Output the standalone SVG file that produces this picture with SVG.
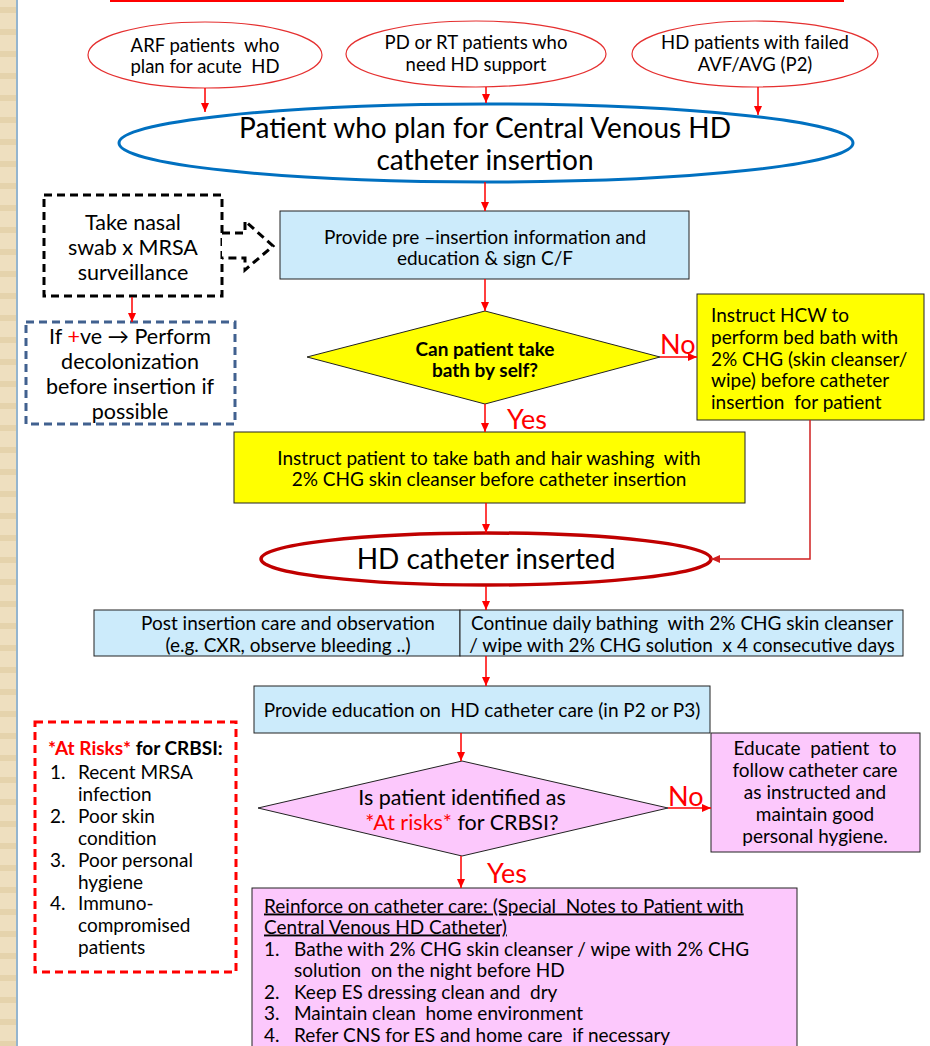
<svg xmlns="http://www.w3.org/2000/svg" width="930" height="1046" viewBox="0 0 930 1046">
<defs>
<pattern id="stripes" x="0" y="0" width="16" height="22" patternUnits="userSpaceOnUse">
<rect x="0" y="0" width="16" height="22" fill="#EEDFBF"/>
<rect x="0" y="7" width="16" height="6" fill="#E5D3AC"/>
</pattern>
<marker id="ah" markerWidth="10" markerHeight="10" refX="9" refY="5" orient="auto" markerUnits="userSpaceOnUse">
<path d="M0,1 L9,5 L0,9 z" fill="#FF0000"/>
</marker>
<marker id="ahd" markerWidth="10" markerHeight="10" refX="9" refY="5" orient="auto" markerUnits="userSpaceOnUse">
<path d="M0,1 L9,5 L0,9 z" fill="#D02020"/>
</marker>
<style>
text{font-family:Lato,"Open Sans","Liberation Sans",sans-serif;fill:#000;white-space:pre}
.c{text-anchor:middle}
.t{font-size:19px}
.e{font-size:18.5px}
.n{font-size:21.5px}
.q{font-size:21.5px}
.big{font-size:28px}
.red{fill:#FF0000}
.lbl{font-size:27px;fill:#FF0000}
.b{font-weight:bold}
.conn{stroke:#FF0000;stroke-width:1.5;fill:none;marker-end:url(#ah)}
.blue{fill:#CCEBFB;stroke:#222;stroke-width:1}
.yel{fill:#FFFF00;stroke:#222;stroke-width:1}
.pink{fill:#FCC8FC;stroke:#222;stroke-width:1}
.redell{fill:#fff;stroke:#E53030;stroke-width:1.2}
</style>
</defs>

<g id="border">
<rect x="0" y="0" width="16" height="1046" fill="url(#stripes)"/>
<rect x="16" y="0" width="2" height="1046" fill="#95B5CE"/>
</g>
<rect id="topbar" x="110" y="0" width="734" height="2" fill="#FF0000"/>

<g id="arf">
<ellipse cx="205" cy="55" rx="117" ry="33" class="redell"/>
<text class="c e" x="205" y="51.5">ARF patients  who</text>
<text class="c e" x="205" y="72.5">plan for acute  HD</text>
</g>
<g id="pdrt">
<ellipse cx="476" cy="54" rx="130" ry="33" class="redell"/>
<text class="c e" x="476" y="48.5">PD or RT patients who</text>
<text class="c e" x="476" y="70.5">need HD support</text>
</g>
<g id="hdfail">
<ellipse cx="755" cy="54" rx="123" ry="33" class="redell"/>
<text class="c e" x="755" y="48.5">HD patients with failed</text>
<text class="c e" x="755" y="70.5">AVF/AVG (P2)</text>
</g>

<g id="central">
<ellipse cx="486" cy="143" rx="367" ry="39" fill="#fff" stroke="#0070C0" stroke-width="3"/>
<text class="c big" x="485" y="138">Patient who plan for Central Venous HD</text>
<text class="c big" x="485" y="170">catheter insertion</text>
</g>

<g id="preinsert">
<rect x="280" y="211" width="409" height="68" class="blue"/>
<text class="c t" x="485" y="243.5">Provide pre –insertion information and</text>
<text class="c t" x="485" y="264.5">education &amp; sign C/F</text>
</g>

<g id="nasal">
<rect x="44" y="195" width="178" height="101" fill="#fff" stroke="#000" stroke-width="3" stroke-dasharray="8,5"/>
<text class="c n" x="133" y="229.5">Take nasal</text>
<text class="c n" x="133" y="254.5">swab x MRSA</text>
<text class="c n" x="133" y="279.5">surveillance</text>
</g>
<g id="blockarrow">
<path d="M222,233 L245,233 L245,221 L273,246 L245,270 L245,258 L222,258" fill="#fff" stroke="#000" stroke-width="3" stroke-dasharray="8,5"/>
</g>

<g id="decolon">
<rect x="26" y="322" width="209" height="102" fill="#fff" stroke="#41618F" stroke-width="3" stroke-dasharray="8,5"/>
<text class="c n" x="130" y="343.5">If <tspan class="red">+</tspan>ve → Perform</text>
<text class="c n" x="130" y="368.5">decolonization</text>
<text class="c n" x="130" y="393.5">before insertion if</text>
<text class="c n" x="130" y="418.5">possible</text>
</g>

<g id="bathq">
<polygon points="307,357 485,311 660,357 485,404" class="yel"/>
<text class="c t b" x="485" y="355.5">Can patient take</text>
<text class="c t b" x="485" y="376.5">bath by self?</text>
</g>

<g id="hcw">
<rect x="697" y="294" width="227" height="126" class="yel"/>
<text class="t" x="711" y="321.5">Instruct HCW to</text>
<text class="t" x="711" y="343.5">perform bed bath with</text>
<text class="t" x="711" y="365.5">2% CHG (skin cleanser/</text>
<text class="t" x="711" y="386.5">wipe) before catheter</text>
<text class="t" x="711" y="408.5">insertion  for patient</text>
</g>

<g id="selfbath">
<rect x="234" y="432" width="511" height="71" class="yel"/>
<text class="c t" x="489" y="464.5">Instruct patient to take bath and hair washing  with</text>
<text class="c t" x="489" y="485.5">2% CHG skin cleanser before catheter insertion</text>
</g>

<g id="inserted">
<ellipse cx="486" cy="559" rx="225" ry="26" fill="#fff" stroke="#C00000" stroke-width="3.5"/>
<text class="c big" x="486" y="569">HD catheter inserted</text>
</g>

<g id="postcare">
<rect x="94" y="610" width="366" height="46" class="blue"/>
<text class="c t" x="288" y="629.5">Post insertion care and observation</text>
<text class="c t" x="288" y="651.5">(e.g. CXR, observe bleeding ..)</text>
</g>
<g id="dailybath">
<rect x="460" y="610" width="443" height="46" class="blue"/>
<text class="c t" x="682" y="629.5">Continue daily bathing  with 2% CHG skin cleanser</text>
<text class="c t" x="682" y="651.5">/ wipe with 2% CHG solution  x 4 consecutive days</text>
</g>

<g id="educate">
<rect x="254" y="686" width="456" height="47" class="blue"/>
<text class="c t" x="482" y="716.5">Provide education on  HD catheter care (in P2 or P3)</text>
</g>

<g id="atrisk">
<rect x="35" y="722" width="201" height="250" fill="#fff" stroke="#FF0000" stroke-width="3" stroke-dasharray="8,5"/>
<text class="t b" x="48" y="754.5"><tspan class="red">*At Risks*</tspan> for CRBSI:</text>
<text class="t" x="50" y="778.5">1.</text><text class="t" x="78" y="778.5">Recent MRSA</text>
<text class="t" x="78" y="800.5">infection</text>
<text class="t" x="50" y="822.5">2.</text><text class="t" x="78" y="822.5">Poor skin</text>
<text class="t" x="78" y="844.5">condition</text>
<text class="t" x="50" y="866.5">3.</text><text class="t" x="78" y="866.5">Poor personal</text>
<text class="t" x="78" y="888.5">hygiene</text>
<text class="t" x="50" y="909.5">4.</text><text class="t" x="78" y="909.5">Immuno-</text>
<text class="t" x="78" y="931.5">compromised</text>
<text class="t" x="78" y="953.5">patients</text>
</g>

<g id="riskq">
<polygon points="258,808 462,761 668,808 462,856" class="pink"/>
<text class="c q" x="462" y="804.5">Is patient identified as</text>
<text class="c q" x="462" y="829.5"><tspan class="red">*At risks*</tspan> for CRBSI?</text>
</g>

<g id="hygiene">
<rect x="711" y="733" width="209" height="119" class="pink"/>
<text class="c t" x="815" y="754.5">Educate  patient  to</text>
<text class="c t" x="815" y="776.5">follow catheter care</text>
<text class="c t" x="815" y="798.5">as instructed and</text>
<text class="c t" x="815" y="820.5">maintain good</text>
<text class="c t" x="815" y="842.5">personal hygiene.</text>
</g>

<g id="reinforce">
<rect x="252" y="888" width="545" height="170" class="pink"/>
<text class="t" x="264" y="912.5" text-decoration="underline">Reinforce on catheter care: (Special  Notes to Patient with</text>
<text class="t" x="264" y="933.5" text-decoration="underline">Central Venous HD Catheter)</text>
<text class="t" x="264" y="955.5">1.</text><text class="t" x="294" y="955.5">Bathe with 2% CHG skin cleanser / wipe with 2% CHG</text>
<text class="t" x="294" y="976.5">solution  on the night before HD</text>
<text class="t" x="264" y="998.5">2.</text><text class="t" x="294" y="998.5">Keep ES dressing clean and  dry</text>
<text class="t" x="264" y="1019.5">3.</text><text class="t" x="294" y="1019.5">Maintain clean  home environment</text>
<text class="t" x="264" y="1041.5">4.</text><text class="t" x="294" y="1041.5">Refer CNS for ES and home care  if necessary</text>
</g>

<g id="labels">
<text class="lbl" x="660" y="354">No</text>
<text class="lbl" x="507" y="429">Yes</text>
<text class="lbl" x="668" y="806">No</text>
<text class="lbl" x="487" y="883">Yes</text>
</g>

<g id="connectors">
<line x1="205" y1="88" x2="205" y2="112" class="conn"/>
<line x1="486" y1="87" x2="486" y2="103" class="conn"/>
<line x1="758" y1="87" x2="758" y2="115" class="conn"/>
<line x1="485" y1="182" x2="485" y2="211" class="conn"/>
<line x1="485" y1="279" x2="485" y2="311" class="conn"/>
<line x1="132" y1="297" x2="132" y2="322" class="conn"/>
<line x1="660" y1="357" x2="697" y2="357" class="conn"/>
<line x1="485" y1="404" x2="485" y2="432" class="conn"/>
<line x1="486" y1="503" x2="486" y2="533" class="conn"/>
<polyline points="810,420 810,559 711,559" fill="none" stroke="#D02020" stroke-width="1.5" marker-end="url(#ahd)"/>
<line x1="486" y1="586" x2="486" y2="610" class="conn"/>
<line x1="486" y1="656" x2="486" y2="686" class="conn"/>
<line x1="461" y1="733" x2="461" y2="761" class="conn"/>
<line x1="668" y1="808" x2="711" y2="808" class="conn"/>
<line x1="461" y1="856" x2="461" y2="888" class="conn"/>
</g>
</svg>
